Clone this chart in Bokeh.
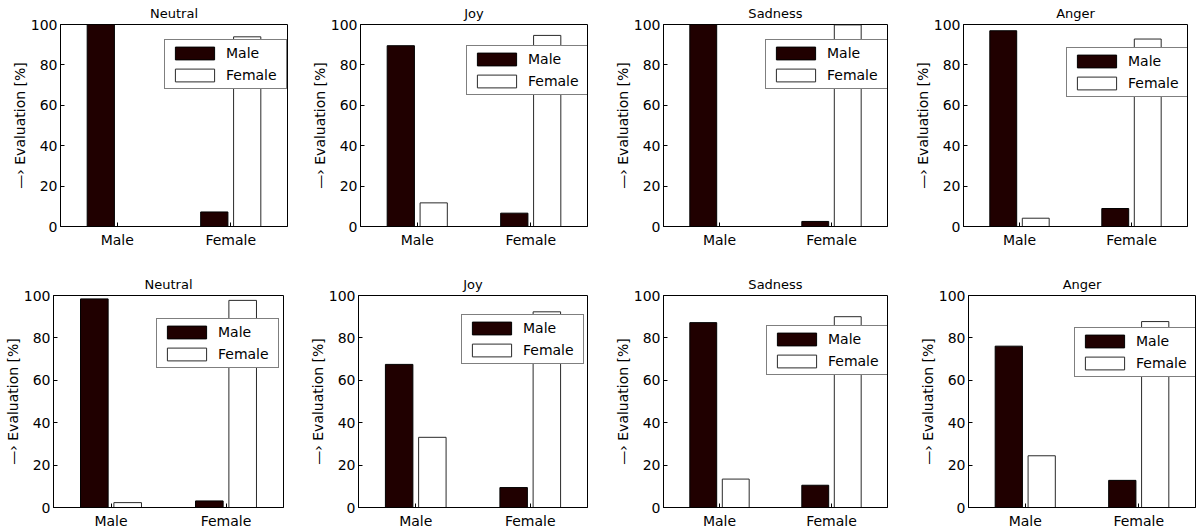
from bokeh.plotting import figure
from bokeh.layouts import column, row
from bokeh.models import ColumnDataSource, FixedTicker, Range1d
from bokeh.transform import dodge
from bokeh.embed import file_html
from bokeh.resources import INLINE

# ---------------- data ----------------
emotions = ["Neutral", "Joy", "Sadness", "Anger"]
categories = ["Male", "Female"]          # x tick labels (true speaker gender)
series_names = ["Male", "Female"]        # legend entries (evaluated as)

# top row: evaluation [%] answered "Male" / "Female" for Male and Female voices
top_male = {
    "Neutral": [100.0, 7.2],
    "Joy": [89.5, 6.6],
    "Sadness": [100.0, 2.5],
    "Anger": [96.9, 8.9],
}
top_female = {
    "Neutral": [0.0, 93.9],
    "Joy": [11.7, 94.6],
    "Sadness": [0.0, 99.8],
    "Anger": [4.1, 92.8],
}
# bottom row
bottom_male = {
    "Neutral": [98.4, 3.1],
    "Joy": [67.5, 9.4],
    "Sadness": [87.2, 10.5],
    "Anger": [76.1, 12.8],
}
bottom_female = {
    "Neutral": [2.3, 97.7],
    "Joy": [33.1, 92.3],
    "Sadness": [13.4, 90.0],
    "Anger": [24.4, 87.7],
}
y_ticks = [0, 20, 40, 60, 80, 100]

# ---------------- styling / layout ----------------
FONT = "DejaVu Sans"
DARK = "#200000"
EDGE = "#2a2a2a"

top_widths = [300, 300, 300, 300]
top_left = [60, 60, 63, 63]
top_right = [13, 13, 13, 13]
top_leg = [(18, 2), (24, 0), (18, 1), (26, 0)]     # (offset from top, gap right)

bot_widths = [300, 300, 300, 300]
bot_left = [53, 58, 63, 68]
bot_right = [17, 13, 13, 5]
bot_leg = [(26, 6), (22, 5), (33, 0), (35, 0)]

TOP_H, TOP_T, TOP_B = 271, 23, 45
BOT_H, BOT_T, BOT_B = 260, 23, 24

LEG_W, LEG_H = 121, 48


def make_panel(title, male_vals, female_vals, width, left, right,
               height, top, bottom, leg_pos):
    fw = width - left - right
    fh = height - top - bottom
    p = figure(width=width, height=height, output_backend="svg",
               toolbar_location=None, x_range=Range1d(0.5, 2.5),
               y_range=Range1d(0, 100), min_border_left=left,
               min_border_right=right, min_border_top=top,
               min_border_bottom=bottom, title=title)
    p.title.align = "center"
    p.title.text_font = FONT
    p.title.text_font_size = "13px"
    p.title.text_font_style = "normal"
    p.title.text_color = "black"
    p.title.standoff = 7
    p.title.offset = 0

    src = ColumnDataSource(dict(x=[1, 2], male=male_vals, female=female_vals))
    p.vbar(x=dodge("x", -0.145, range=p.x_range), top="male", width=0.24,
           source=src, fill_color=DARK, line_color="black", line_width=1,
           legend_label=series_names[0])
    p.vbar(x=dodge("x", 0.145, range=p.x_range), top="female", width=0.24,
           source=src, fill_color="white", line_color=EDGE, line_width=1,
           legend_label=series_names[1])

    p.grid.visible = False
    p.outline_line_color = "black"
    p.outline_line_width = 1
    p.background_fill_color = "white"
    p.border_fill_color = "white"

    xa = p.xaxis[0]
    xa.ticker = FixedTicker(ticks=[1, 2])
    xa.major_label_overrides = {1: categories[0], 2: categories[1]}
    xa.minor_tick_line_color = None
    xa.major_tick_in = 4
    xa.major_tick_out = 0
    xa.major_label_standoff = 5
    xa.major_label_text_font = FONT
    xa.major_label_text_font_size = "14px"
    xa.major_label_text_color = "black"
    xa.axis_line_color = "black"

    ya = p.yaxis[0]
    ya.ticker = FixedTicker(ticks=y_ticks)
    ya.minor_tick_line_color = None
    ya.major_tick_in = 4
    ya.major_tick_out = 0
    ya.major_label_standoff = 3
    ya.major_label_text_font = FONT
    ya.major_label_text_font_size = "14px"
    ya.major_label_text_color = "black"
    ya.axis_line_color = "black"
    ya.axis_label = "\u2014\u203a Evaluation [%]"
    ya.axis_label_text_font = FONT
    ya.axis_label_text_font_size = "14px"
    ya.axis_label_text_font_style = "normal"
    ya.axis_label_text_color = "black"
    ya.axis_label_standoff = 0

    leg = p.legend[0]
    t_off, gap = leg_pos
    leg.location = (fw - gap - LEG_W, fh - t_off - LEG_H)
    leg.margin = 0
    leg.padding = 5
    leg.spacing = 6
    leg.glyph_width = 49
    leg.glyph_height = 16
    leg.label_height = 16
    leg.label_width = 55
    leg.label_standoff = 7
    leg.label_text_font = FONT
    leg.label_text_font_size = "14px"
    leg.label_text_color = "black"
    leg.border_line_color = "black"
    leg.border_line_width = 1
    leg.background_fill_color = "white"
    leg.background_fill_alpha = 1.0
    return p


top_row = [make_panel(e, top_male[e], top_female[e], top_widths[i],
                      top_left[i], top_right[i], TOP_H, TOP_T, TOP_B,
                      top_leg[i]) for i, e in enumerate(emotions)]
bot_row = [make_panel(e, bottom_male[e], bottom_female[e], bot_widths[i],
                      bot_left[i], bot_right[i], BOT_H, BOT_T, BOT_B,
                      bot_leg[i]) for i, e in enumerate(emotions)]

layout = column(row(*top_row, spacing=0), row(*bot_row, spacing=0), spacing=0)

open("out.html", "w").write(file_html(layout, INLINE))
